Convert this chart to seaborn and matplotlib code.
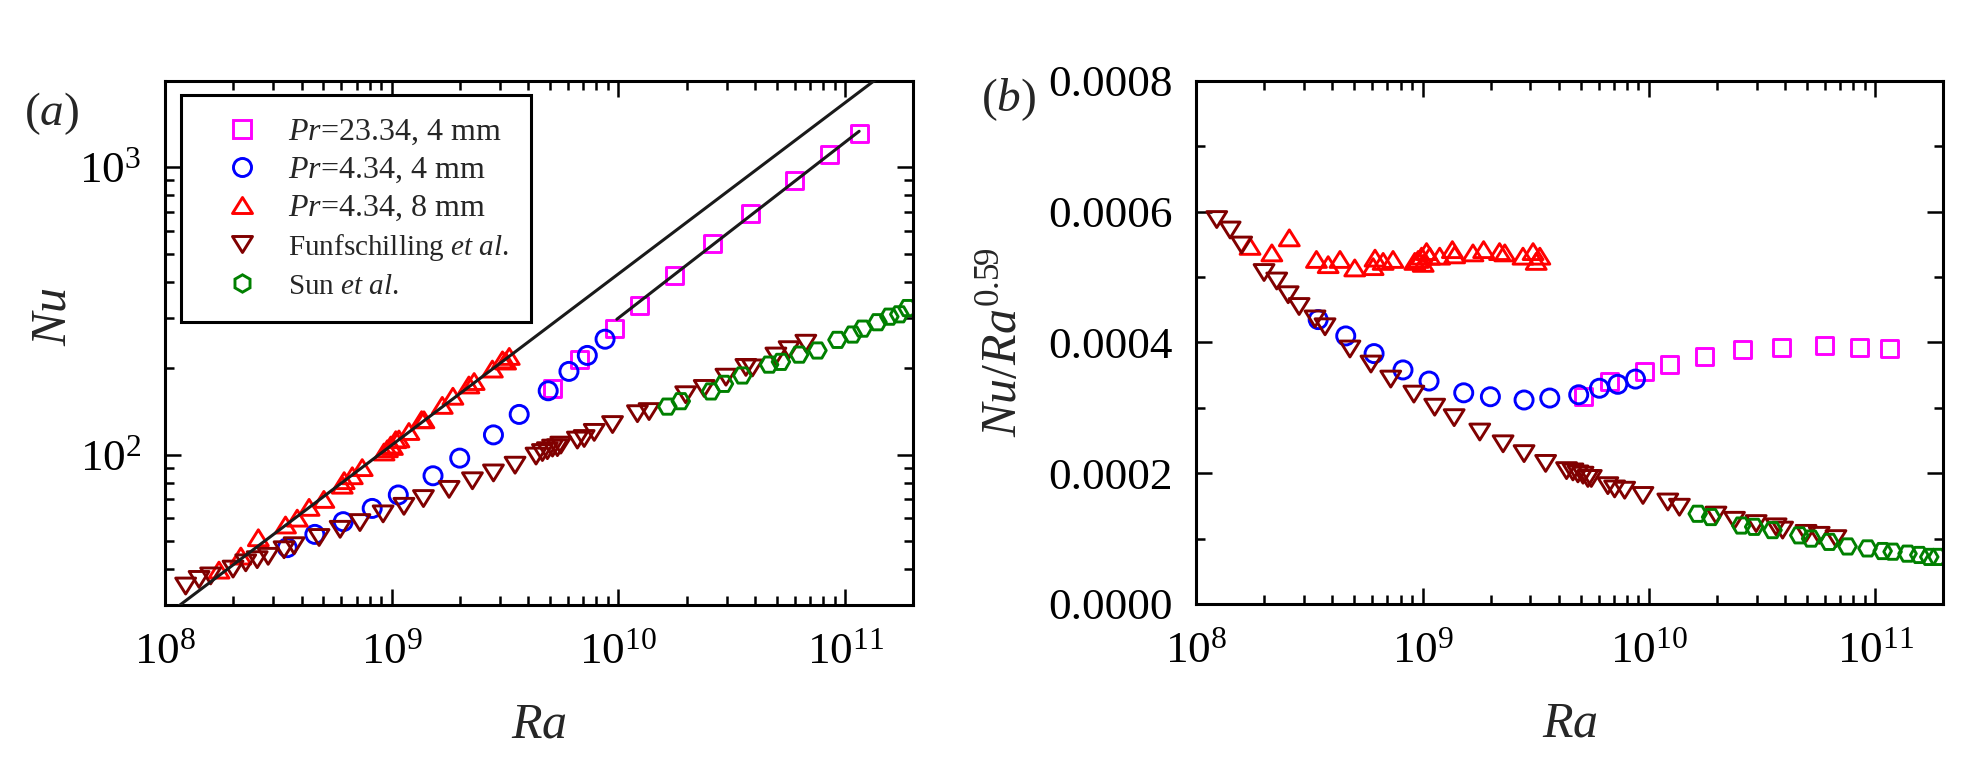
import numpy as np
import matplotlib
matplotlib.use("Agg")
import matplotlib.pyplot as plt
import seaborn as sns
from matplotlib.lines import Line2D
from matplotlib.path import Path
from matplotlib.ticker import (LogLocator, NullFormatter, MultipleLocator,
                               FormatStrFormatter)

# ---------------- data (Ra, compensated Nu/Ra^0.59 in units of 1e-4) -------------
pr23_4mm_ra = [5.12e9, 6.71e9, 9.57e9, 1.233e10, 1.762e10, 2.60e10, 3.84e10,
               5.96e10, 8.51e10, 1.153e11]
pr23_4mm_c = [3.18, 3.41, 3.56, 3.67, 3.79, 3.90, 3.93, 3.96, 3.93, 3.91]

pr4_4mm_ra = [3.46e8, 4.58e8, 6.11e8, 8.20e8, 1.069e9, 1.521e9, 1.995e9, 2.81e9,
              3.65e9, 4.90e9, 6.05e9, 7.29e9, 8.73e9]
pr4_4mm_c = [4.35, 4.10, 3.83, 3.58, 3.41, 3.23, 3.17, 3.12, 3.15, 3.20, 3.30,
             3.36, 3.44]

pr4_8mm_ra = [1.73e8, 2.16e8, 2.58e8, 3.40e8, 3.83e8, 4.32e8, 5.02e8, 6.05e8,
              6.17e8, 6.70e8, 7.41e8, 9.25e8, 9.57e8, 9.91e8, 1.007e9, 1.042e9,
              1.076e9, 1.191e9, 1.355e9, 1.387e9, 1.671e9, 1.862e9, 2.19e9,
              2.31e9, 2.78e9, 3.08e9, 3.18e9, 3.30e9]
pr4_8mm_c = [5.47, 5.37, 5.60, 5.27, 5.19, 5.27, 5.14, 5.16, 5.29, 5.24, 5.27,
             5.24, 5.27, 5.32, 5.21, 5.39, 5.32, 5.32, 5.42, 5.34, 5.37, 5.42,
             5.39, 5.37, 5.32, 5.39, 5.24, 5.32]

funf_ra = [1.233e8, 1.413e8, 1.589e8, 1.995e8, 2.27e8, 2.55e8, 2.85e8, 3.35e8,
           3.71e8, 4.78e8, 5.92e8, 7.24e8, 9.16e8, 1.132e9, 1.380e9, 1.791e9,
           2.27e9, 2.81e9, 3.50e9, 4.33e9, 4.62e9, 4.86e9, 5.12e9, 5.38e9,
           5.57e9, 6.59e9, 7.06e9, 7.82e9, 9.42e9, 1.213e10, 1.365e10, 1.98e10,
           2.39e10, 2.98e10, 3.65e10, 3.90e10, 4.95e10, 5.66e10, 6.71e10]
funf_c = [5.88, 5.72, 5.49, 5.07, 4.94, 4.73, 4.55, 4.36, 4.24, 3.90, 3.67, 3.44,
          3.21, 3.01, 2.85, 2.63, 2.45, 2.30, 2.15, 2.04, 2.02, 1.99, 1.97, 1.92,
          1.92, 1.81, 1.76, 1.74, 1.66, 1.56, 1.48, 1.36, 1.28, 1.23, 1.18, 1.13,
          1.08, 1.05, 1.00]

sun_ra = [1.644e10, 1.884e10, 2.56e10, 2.92e10, 3.52e10, 4.62e10, 5.21e10,
          6.27e10, 7.55e10, 9.25e10, 1.079e11, 1.194e11, 1.390e11, 1.567e11,
          1.734e11, 1.888e11]
sun_c = [1.38, 1.33, 1.20, 1.18, 1.13, 1.05, 1.00, 0.95, 0.88, 0.85, 0.81, 0.80,
         0.77, 0.75, 0.72, 0.72]

# fitted lines in panel (a)
fit1_ra = [1.0e8, 2.0e11]
fit1_nu = [27.4, 2535.0]
fit2_ra = [9.84e9, 1.153e11]
fit2_nu = [296.0, 1334.0]

beta = 0.59
labels = [r'$\mathit{Pr}$=23.34, 4 mm', r'$\mathit{Pr}$=4.34, 4 mm',
          r'$\mathit{Pr}$=4.34, 8 mm', r'Funfschilling $\mathit{et\ al.}$',
          r'Sun $\mathit{et\ al.}$']

# ---------------- style ----------------
sns.set_theme(style="ticks")
plt.rcParams.update({
    'font.family': ['Liberation Serif', 'DejaVu Serif'],
    'mathtext.fontset': 'custom',
    'mathtext.rm': 'Liberation Serif',
    'mathtext.it': 'Liberation Serif:italic',
    'mathtext.bf': 'Liberation Serif:bold',
    'mathtext.default': 'regular',
    'axes.edgecolor': 'black',
    'xtick.color': 'black',
    'ytick.color': 'black',
})


def tri(up=True):
    s = 1 if up else -1
    verts = [(0, 0.8 * s), (-1, -0.8 * s), (1, -0.8 * s), (0, 0.8 * s)]
    codes = [Path.MOVETO, Path.LINETO, Path.LINETO, Path.CLOSEPOLY]
    return Path(verts, codes)


MAG, BLU, RED, BRN, GRN = '#FF00FF', '#0000FF', '#FF0000', '#800000', '#008000'
series = [
    (pr23_4mm_ra, pr23_4mm_c, 's', 150, MAG),
    (pr4_4mm_ra, pr4_4mm_c, 'o', 169, BLU),
    (pr4_8mm_ra, pr4_8mm_c, tri(True), 205, RED),
    (funf_ra, funf_c, tri(False), 205, BRN),
    (sun_ra, sun_c, 'H', 160, GRN),
]
EW = 2.1

fig = plt.figure(figsize=(19.86, 7.63), dpi=100)
axA = fig.add_axes([0.0831, 0.2071, 0.3768, 0.6871])
axB = fig.add_axes([0.6023, 0.2084, 0.3762, 0.6855])

for ra, c, m, s, col in series:
    ra = np.asarray(ra)
    comp = np.asarray(c) * 1e-4
    nu = comp * ra ** beta
    sns.scatterplot(x=ra, y=nu, ax=axA, marker=m, s=s, facecolor='none',
                    edgecolor=col, linewidth=EW, zorder=2, legend=False)
    sns.scatterplot(x=ra, y=comp, ax=axB, marker=m, s=s, facecolor='none',
                    edgecolor=col, linewidth=EW, zorder=2, legend=False)

sns.lineplot(x=fit1_ra, y=fit1_nu, ax=axA, color='k', lw=2.2, zorder=3,
             estimator=None, sort=False)
sns.lineplot(x=fit2_ra, y=fit2_nu, ax=axA, color='k', lw=2.2, zorder=3,
             estimator=None, sort=False)

# ---------------- axes formatting ----------------
for ax in (axA, axB):
    ax.set_xscale('log')
    ax.set_xlim(1e8, 2e11)
    ax.xaxis.set_major_locator(LogLocator(base=10, numticks=10))
    ax.xaxis.set_minor_locator(LogLocator(base=10, subs=np.arange(2, 10), numticks=20))
    ax.xaxis.set_minor_formatter(NullFormatter())
    ax.tick_params(which='both', direction='in', top=True, right=True,
                   width=1.8, labelsize=32.5)
    ax.tick_params(which='major', length=11.5)
    ax.tick_params(which='minor', length=6.8)
    ax.tick_params(axis='x', which='both', pad=20)
    ax.tick_params(axis='y', which='both', pad=17)
    for sp in ax.spines.values():
        sp.set_linewidth(2.2)
        sp.set_color('black')

axA.set_yscale('log')
axA.set_ylim(30, 2000)
axA.yaxis.set_minor_locator(LogLocator(base=10, subs=np.arange(2, 10), numticks=20))
axA.yaxis.set_minor_formatter(NullFormatter())

axB.set_ylim(0, 0.0008)
axB.yaxis.set_major_locator(MultipleLocator(0.0002))
axB.yaxis.set_minor_locator(MultipleLocator(0.0001))
axB.yaxis.set_major_formatter(FormatStrFormatter('%.4f'))

axA.set_xlabel(r'$\mathit{Ra}$', fontsize=36)
axB.set_xlabel(r'$\mathit{Ra}$', fontsize=36)
axA.set_ylabel(r'$\mathit{Nu}$', fontsize=36)
axB.set_ylabel(r'$\mathit{Nu/Ra}^{0.59}$', fontsize=36)
axA.xaxis.set_label_coords(0.5, -0.185)
axB.xaxis.set_label_coords(0.5, -0.185)
axA.yaxis.set_label_coords(-0.118, 0.55)
axB.yaxis.set_label_coords(-0.226, 0.5)

# ---------------- legend ----------------
mk_leg = ['s', 'o', tri(True), tri(False), 'h']
ms_leg = [12.5, 13, 14.4, 14.4, 12.5]
cols = [MAG, BLU, RED, BRN, GRN]
handles = [Line2D([], [], linestyle='none', marker=m, ms=ms, mfc='none',
                  mec=c, mew=EW) for m, ms, c in zip(mk_leg, ms_leg, cols)]
leg = axA.legend(handles, labels, loc='upper left', bbox_to_anchor=(0.0214, 0.9727),
                 borderaxespad=0, frameon=True, fancybox=False, edgecolor='black',
                 framealpha=1, fontsize=23, handlelength=2.4, handletextpad=0.25,
                 borderpad=0.7, labelspacing=0.27)
leg.get_frame().set_linewidth(2.2)
for t in leg.get_texts()[3:]:
    t.set_fontsize(21)

fig.text(0.026, 0.851, r'($\mathit{a}$)', fontsize=34, ha='center', va='center')
fig.text(0.5076, 0.869, r'($\mathit{b}$)', fontsize=34, ha='center', va='center')

fig.savefig('out.png', dpi=100)
